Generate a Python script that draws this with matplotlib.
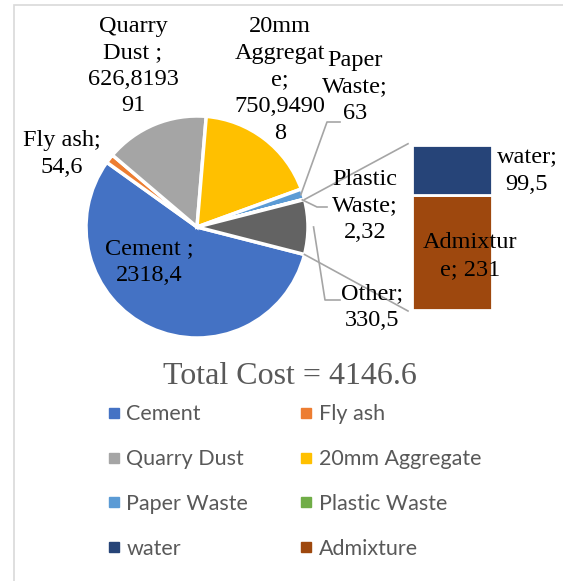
import numpy as np
import matplotlib.pyplot as plt
from matplotlib.patches import Rectangle
from matplotlib.lines import Line2D

# data (values from the chart labels)
pie_names = ["Cement", "Fly ash", "Quarry Dust", "20mm Aggregate",
             "Paper Waste", "Plastic Waste", "Other"]
pie_vals = [2318.4, 54.6, 626.819391, 750.94908, 63, 2.32, 330.5]
pie_labels = ["Cement ;\n2318,4", "Fly ash;\n54,6", "Quarry\nDust ;\n626,8193\n91",
              "20mm\nAggregat\ne;\n750,9490\n8", "Paper\nWaste;\n63",
              "Plastic\nWaste;\n2,32", "Other;\n330,5"]
bar_names = ["water", "Admixture"]
bar_vals = [99.5, 231]
bar_labels = ["water;\n99,5", "Admixtur\ne; 231"]
total_text = "Total Cost = 4146.6"

legend_names = ["Cement", "Fly ash", "Quarry Dust", "20mm Aggregate",
                "Paper Waste", "Plastic Waste", "water", "Admixture"]
colors = {"Cement": "#4472C4", "Fly ash": "#ED7D31", "Quarry Dust": "#A5A5A5",
          "20mm Aggregate": "#FFC000", "Paper Waste": "#5B9BD5",
          "Plastic Waste": "#70AD47", "Other": "#636363",
          "water": "#264478", "Admixture": "#9E480E"}

W, H = 563, 581
serif = "Liberation Serif"

fig = plt.figure(figsize=(W / 100, H / 100), dpi=100)
ax = fig.add_axes([0, 0, 1, 1])


def Y(y):
    # image rows -> axes coords
    return H - y


# pie
cx, cy, r = 197, Y(227), 111
other_frac = pie_vals[-1] / sum(pie_vals)
start = -180 * other_frac  # "Other" centred on the right
wedges, _ = ax.pie(pie_vals, colors=[colors[n] for n in pie_names],
                   center=(cx, cy), radius=r, startangle=start,
                   counterclock=False,
                   wedgeprops=dict(edgecolor="white", linewidth=2.5))

# stacked bar for "Other"
k = 0.5  # px per unit
bx, bw, by = 452, 80, Y(310)
bottom = by
for name, v in zip(bar_names[::-1], bar_vals[::-1]):
    ax.bar(bx, v * k, width=bw, bottom=bottom, color=colors[name],
           edgecolor="white", linewidth=2)
    bottom += v * k

# connector lines pie -> bar
a1, a2 = np.deg2rad(-start), np.deg2rad(start)
ax.plot([cx + r * np.cos(a1), bx - bw / 2 - 4], [cy + r * np.sin(a1), by + sum(bar_vals) * k + 1],
        color="#A5A5A5", lw=1.2)
ax.plot([cx + r * np.cos(a2), bx - bw / 2 - 4], [cy + r * np.sin(a2), by - 1],
        color="#A5A5A5", lw=1.2)

# data labels
lab_pos = [(149, 262), (62, 154), (133, 66), (280, 80), (355, 87), (365, 206), (372, 307)]
fs = 17.5
for lab, (x, y) in zip(pie_labels, lab_pos):
    ax.text(x, Y(y), lab, ha="center", va="center", fontsize=fs,
            family=serif, color="black", linespacing=1.35)
for lab, (x, y) in zip(bar_labels, [(527, 171), (470, 256)]):
    ax.text(x, Y(y), lab, ha="center", va="center", fontsize=fs,
            family=serif, color="black", linespacing=1.35)

# leader lines (Paper, Plastic, Other)
cum = np.cumsum([0] + pie_vals) / sum(pie_vals) * 360
leaders = {4: [(327, 122), (340, 122)], 5: [(317, 207), (327, 207)],
           6: [(325, 300), (340, 300)]}
for i, pts in leaders.items():
    mid = np.deg2rad(start - (cum[i] + cum[i + 1]) / 2)
    rr = r * 0.98 if i != 6 else r * 1.05
    xs = [cx + rr * np.cos(mid)] + [p[0] for p in pts]
    ys = [cy + rr * np.sin(mid)] + [Y(p[1]) for p in pts]
    ax.plot(xs, ys, color="#A5A5A5", lw=1.2)

ax.text(290, Y(376), total_text, ha="center", va="center", fontsize=23,
        family=serif, color="#595959")

# legend, filled row by row like Excel
order = [0, 2, 4, 6, 1, 3, 5, 7]
handles = [Line2D([], [], ls="", marker="s", ms=7, color=colors[legend_names[i]]) for i in order]
ax.legend(handles, [legend_names[i] for i in order], ncol=2, loc="upper left",
          bbox_to_anchor=(88 / W, 1 - 385 / H), frameon=False,
          prop=dict(family="Lato", size=15.5), labelcolor="#595959",
          handlelength=0.6, handletextpad=0.28, columnspacing=2.4,
          labelspacing=1.15)

# chart border
ax.add_patch(Rectangle((14, -20), 700, Y(5) + 20, fill=False,
                       edgecolor="#D9D9D9", lw=1.2))

ax.set_xlim(0, W)
ax.set_ylim(0, H)
ax.axis("off")

fig.savefig("out.png", dpi=100)
